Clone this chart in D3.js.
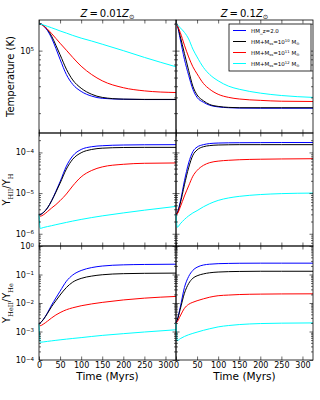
<!DOCTYPE html>
<html>
<head>
<meta charset="utf-8">
<script src="https://cdn.jsdelivr.net/npm/d3@7"></script>
<style>
  body { margin: 0; background: #fff; }
  text { font-family: "DejaVu Sans", sans-serif; }
</style>
</head>
<body>
<div class="chart"></div>
<script>
// time grid (Myrs)
const times = [0, 3, 10, 20, 30, 40, 50, 65, 80, 100, 125, 150, 200, 250, 325];
const xTicks = [0, 50, 100, 150, 200, 250, 300];

const seriesColors = ["#0000ff", "#000000", "#ff0000", "#00ffff"];

// temperature (K), Z = 0.01 Zsun : HM, 1e10, 1e11, 1e12
const tempLowZ = [
  [2.0e5, 2.0e5, 1.9e5, 1.68e5, 1.38e5, 1.06e5, 8.0e4, 5.4e4, 4.2e4, 3.5e4, 3.1e4, 2.93e4, 2.86e4, 2.84e4, 2.84e4],
  [2.0e5, 2.0e5, 1.92e5, 1.72e5, 1.45e5, 1.15e5, 9.0e4, 6.2e4, 4.7e4, 3.8e4, 3.25e4, 3.0e4, 2.87e4, 2.85e4, 2.85e4],
  [2.0e5, 1.98e5, 1.9e5, 1.74e5, 1.55e5, 1.37e5, 1.21e5, 1.01e5, 8.4e4, 6.7e4, 5.4e4, 4.6e4, 3.85e4, 3.55e4, 3.4e4],
  [2.0e5, 1.98e5, 1.94e5, 1.87e5, 1.8e5, 1.73e5, 1.66e5, 1.57e5, 1.48e5, 1.38e5, 1.28e5, 1.18e5, 1.0e5, 8.4e4, 6.6e4]
];
// temperature (K), Z = 0.1 Zsun
const tempHighZ = [
  [2.0e5, 1.9e5, 1.35e5, 8.0e4, 5.3e4, 3.7e4, 3.0e4, 2.65e4, 2.45e4, 2.35e4, 2.3e4, 2.28e4, 2.27e4, 2.27e4, 2.27e4],
  [2.0e5, 1.92e5, 1.45e5, 9.3e4, 6.0e4, 4.0e4, 3.2e4, 2.75e4, 2.5e4, 2.38e4, 2.32e4, 2.3e4, 2.3e4, 2.3e4, 2.3e4],
  [2.0e5, 1.9e5, 1.6e5, 1.15e5, 8.5e4, 6.6e4, 5.5e4, 4.3e4, 3.7e4, 3.25e4, 3.0e4, 2.88e4, 2.78e4, 2.72e4, 2.7e4],
  [2.0e5, 1.95e5, 1.8e5, 1.6e5, 1.35e5, 1.04e5, 8.5e4, 6.5e4, 5.4e4, 4.6e4, 4.0e4, 3.7e4, 3.35e4, 3.15e4, 3.0e4]
];
// Y_HII / Y_H, Z = 0.01 Zsun
const hiiLowZ = [
  [3.0e-6, 3.0e-6, 3.3e-6, 4.3e-6, 6.5e-6, 1.1e-5, 1.9e-5, 4.6e-5, 8.2e-5, 1.18e-4, 1.38e-4, 1.46e-4, 1.52e-4, 1.54e-4, 1.55e-4],
  [3.0e-6, 3.0e-6, 3.3e-6, 4.3e-6, 6.5e-6, 1.05e-5, 1.75e-5, 3.9e-5, 6.8e-5, 9.8e-5, 1.18e-4, 1.27e-4, 1.32e-4, 1.33e-4, 1.33e-4],
  [3.0e-6, 2.7e-6, 2.9e-6, 3.5e-6, 4.3e-6, 5.2e-6, 6.5e-6, 9.5e-6, 1.5e-5, 2.5e-5, 3.6e-5, 4.4e-5, 5.1e-5, 5.4e-5, 5.5e-5],
  [3.0e-6, 1.35e-6, 1.42e-6, 1.5e-6, 1.58e-6, 1.67e-6, 1.76e-6, 1.9e-6, 2.05e-6, 2.25e-6, 2.5e-6, 2.75e-6, 3.25e-6, 3.8e-6, 4.7e-6]
];
// Y_HII / Y_H, Z = 0.1 Zsun
const hiiHighZ = [
  [3.0e-6, 3.3e-6, 6.0e-6, 2.0e-5, 5.5e-5, 1.05e-4, 1.35e-4, 1.55e-4, 1.65e-4, 1.7e-4, 1.72e-4, 1.73e-4, 1.74e-4, 1.75e-4, 1.75e-4],
  [3.0e-6, 3.2e-6, 5.5e-6, 1.6e-5, 4.2e-5, 8.5e-5, 1.15e-4, 1.38e-4, 1.47e-4, 1.52e-4, 1.54e-4, 1.55e-4, 1.55e-4, 1.55e-4, 1.55e-4],
  [3.0e-6, 3.1e-6, 4.5e-6, 8.5e-6, 1.5e-5, 2.6e-5, 3.6e-5, 4.8e-5, 5.6e-5, 6.1e-5, 6.4e-5, 6.6e-5, 6.8e-5, 6.9e-5, 7.0e-5],
  [3.0e-6, 1.45e-6, 1.75e-6, 2.25e-6, 2.75e-6, 3.25e-6, 3.7e-6, 4.6e-6, 5.5e-6, 6.6e-6, 7.6e-6, 8.3e-6, 9.2e-6, 9.7e-6, 1.0e-5]
];
// Y_HeII / Y_He, Z = 0.01 Zsun
const heiiLowZ = [
  [1.9e-3, 2.0e-3, 2.6e-3, 4.5e-3, 8.5e-3, 1.5e-2, 2.6e-2, 5.8e-2, 9.6e-2, 1.38e-1, 1.75e-1, 1.98e-1, 2.18e-1, 2.25e-1, 2.3e-1],
  [1.9e-3, 2.0e-3, 2.6e-3, 4.3e-3, 7.5e-3, 1.2e-2, 1.9e-2, 3.5e-2, 5.4e-2, 7.3e-2, 8.8e-2, 9.8e-2, 1.07e-1, 1.1e-1, 1.12e-1],
  [1.9e-3, 1.6e-3, 1.8e-3, 2.3e-3, 3.0e-3, 3.8e-3, 4.6e-3, 5.8e-3, 6.8e-3, 8.0e-3, 9.3e-3, 1.05e-2, 1.28e-2, 1.48e-2, 1.7e-2],
  [1.9e-3, 4.2e-4, 4.3e-4, 4.5e-4, 4.7e-4, 4.9e-4, 5.1e-4, 5.4e-4, 5.7e-4, 6.1e-4, 6.7e-4, 7.3e-4, 8.4e-4, 9.6e-4, 1.15e-3]
];
// Y_HeII / Y_He, Z = 0.1 Zsun
const heiiHighZ = [
  [2.0e-3, 2.6e-3, 7.0e-3, 3.5e-2, 8.5e-2, 1.4e-1, 1.8e-1, 2.15e-1, 2.3e-1, 2.4e-1, 2.45e-1, 2.48e-1, 2.5e-1, 2.5e-1, 2.5e-1],
  [2.0e-3, 2.5e-3, 6.0e-3, 2.2e-2, 4.8e-2, 7.4e-2, 9.0e-2, 1.05e-1, 1.15e-1, 1.22e-1, 1.26e-1, 1.28e-1, 1.3e-1, 1.3e-1, 1.3e-1],
  [2.0e-3, 2.2e-3, 3.5e-3, 6.5e-3, 9.0e-3, 1.06e-2, 1.2e-2, 1.4e-2, 1.6e-2, 1.8e-2, 1.9e-2, 1.98e-2, 2.05e-2, 2.08e-2, 2.1e-2],
  [2.0e-3, 4.8e-4, 5.6e-4, 6.7e-4, 7.7e-4, 8.6e-4, 9.5e-4, 1.1e-3, 1.25e-3, 1.45e-3, 1.62e-3, 1.75e-3, 1.9e-3, 1.96e-3, 2.0e-3]
];

const tempDomain = [1.2e4, 2.2e5], tempMajors = [1e5];
const hiiDomain = [5e-7, 3e-4], hiiMajors = [1e-6, 1e-5, 1e-4];
const heiiDomain = [1e-4, 1], heiiMajors = [1e-4, 1e-3, 1e-2, 1e-1, 1];

const cols = [[39, 176], [176, 313]];
const rows = [[20, 133], [133, 246], [246, 360]];

const svg = d3.select(".chart").append("svg")
    .attr("width", 320)
    .attr("height", 400);

function minorTicks(domain) {
  let out = [];
  for (let e = Math.floor(Math.log10(domain[0])); e <= Math.ceil(Math.log10(domain[1])); e++) {
    for (let k = 2; k < 10; k++) {
      let v = k * Math.pow(10, e);
      if (v > domain[0] * 1.0001 && v < domain[1] * 0.9999) out.push(v);
    }
  }
  return out;
}

function expLabel(sel) {
  sel.each(function(d) {
    const t = d3.select(this);
    const e = Math.round(Math.log10(d));
    t.text("");
    t.append("tspan").text("10");
    t.append("tspan").attr("dy", "-0.45em").attr("font-size", 5.5)
      .text(e < 0 ? "\u2212" + (-e) : e);
  });
}

function panel(col, row, domain, majors, data, showX, showY) {
  const [x0, x1] = cols[col], [y0, y1] = rows[row];
  const x = d3.scaleLinear().domain([0, 325]).range([x0, x1]);
  const y = d3.scaleLog().domain(domain).range([y1, y0]);
  const minors = minorTicks(domain);

  const line = d3.line()
    .x((d, i) => x(times[i]))
    .y(d => y(d))
    .curve(d3.curveMonotoneX);

  const g = svg.append("g");
  data.forEach((s, i) => {
    g.append("path")
      .attr("d", line(s))
      .attr("fill", "none")
      .attr("stroke", seriesColors[i])
      .attr("stroke-width", 1);
  });

  g.append("g").attr("class", "axis")
    .attr("transform", `translate(0,${y1})`)
    .call(d3.axisBottom(x).tickValues(xTicks).tickSize(-3.5).tickPadding(2)
      .tickFormat(showX ? d3.format("d") : ""));
  g.append("g").attr("class", "axis")
    .attr("transform", `translate(0,${y0})`)
    .call(d3.axisTop(x).tickValues(xTicks).tickSize(-3.5).tickFormat(""));

  const ly = g.append("g").attr("class", "axis")
    .attr("transform", `translate(${x0},0)`)
    .call(d3.axisLeft(y).tickValues(majors).tickSize(-3.5).tickPadding(5));
  if (showY) ly.selectAll(".tick text").call(expLabel);
  else ly.selectAll(".tick text").remove();
  g.append("g").attr("class", "axis")
    .attr("transform", `translate(${x0},0)`)
    .call(d3.axisLeft(y).tickValues(minors).tickSize(-2).tickFormat(""));
  g.append("g").attr("class", "axis")
    .attr("transform", `translate(${x1},0)`)
    .call(d3.axisRight(y).tickValues(majors).tickSize(-3.5).tickFormat(""));
  g.append("g").attr("class", "axis")
    .attr("transform", `translate(${x1},0)`)
    .call(d3.axisRight(y).tickValues(minors).tickSize(-2).tickFormat(""));

  g.selectAll(".axis .domain").remove();
  g.selectAll(".axis line").attr("stroke", "#000").attr("stroke-width", 0.6);
  g.selectAll(".axis text").attr("font-size", 8).attr("fill", "#000")
    .attr("font-family", "DejaVu Sans, sans-serif");

  g.append("rect")
    .attr("x", x0).attr("y", y0)
    .attr("width", x1 - x0).attr("height", y1 - y0)
    .attr("fill", "none").attr("stroke", "#000").attr("stroke-width", 0.8);
}

panel(0, 0, tempDomain, tempMajors, tempLowZ, false, true);
panel(1, 0, tempDomain, tempMajors, tempHighZ, false, false);
panel(0, 1, hiiDomain, hiiMajors, hiiLowZ, false, true);
panel(1, 1, hiiDomain, hiiMajors, hiiHighZ, false, false);
panel(0, 2, heiiDomain, heiiMajors, heiiLowZ, true, true);
panel(1, 2, heiiDomain, heiiMajors, heiiHighZ, true, false);

// titles
function title(cx, z) {
  const t = svg.append("text")
    .attr("x", cx).attr("y", 17)
    .attr("text-anchor", "middle")
    .attr("font-family", "DejaVu Serif, serif")
    .attr("font-size", 10);
  t.append("tspan").attr("font-style", "italic").text("Z");
  t.append("tspan").text("\u2009=\u2009" + z);
  t.append("tspan").attr("font-style", "italic").text("Z");
  t.append("tspan").attr("font-size", 6.5).attr("dy", 2).text("\u2299");
}
title(107.5, "0.01");
title(244.5, "0.1");

// x labels
[107.5, 244.5].forEach(cx => {
  svg.append("text")
    .attr("x", cx).attr("y", 380)
    .attr("text-anchor", "middle")
    .attr("font-size", 10.5)
    .text("Time (Myrs)");
});

// y labels
svg.append("text")
  .attr("transform", "translate(14,76.5) rotate(-90)")
  .attr("text-anchor", "middle")
  .attr("font-size", 10)
  .text("Temperature (K)");

function ratioLabel(cy, a, b) {
  const t = svg.append("text")
    .attr("transform", `translate(10,${cy}) rotate(-90)`)
    .attr("text-anchor", "middle")
    .attr("font-size", 10);
  t.append("tspan").text("Y");
  t.append("tspan").attr("dy", 2.5).attr("font-size", 6.5)
    .attr("font-family", "DejaVu Serif, serif").text(a);
  t.append("tspan").attr("dy", -2.5).text("/Y");
  t.append("tspan").attr("dy", 2.5).attr("font-size", 6.5)
    .attr("font-family", "DejaVu Serif, serif").text(b);
}
ratioLabel(189.5, "HII", "H");
ratioLabel(303, "HeII", "He");

// legend
const legendLabels = [
  ["HM_z=2.0"],
  ["HM+M", "ss", "=10", "10", " M", "\u2299"],
  ["HM+M", "ss", "=10", "11", " M", "\u2299"],
  ["HM+M", "ss", "=10", "12", " M", "\u2299"]
];
const legend = svg.append("g");
legend.append("rect")
  .attr("x", 229).attr("y", 24).attr("width", 82).attr("height", 47)
  .attr("fill", "#fff").attr("stroke", "#000").attr("stroke-width", 0.8);
const ly = d3.scaleBand().domain(d3.range(4)).range([25, 69]);
legendLabels.forEach((parts, i) => {
  const yy = ly(i) + ly.bandwidth() / 2;
  legend.append("line")
    .attr("x1", 233).attr("x2", 246).attr("y1", yy).attr("y2", yy)
    .attr("stroke", seriesColors[i]).attr("stroke-width", 1);
  const t = legend.append("text")
    .attr("x", 251).attr("y", yy + 2)
    .attr("font-size", 5.5);
  if (parts.length === 1) { t.text(parts[0]); return; }
  t.append("tspan").text(parts[0]);
  t.append("tspan").attr("dy", 1.2).attr("font-size", 3.8).text(parts[1]);
  t.append("tspan").attr("dy", -1.2).text(parts[2]);
  t.append("tspan").attr("dy", -2).attr("font-size", 3.8).text(parts[3]);
  t.append("tspan").attr("dy", 2).text(parts[4]);
  t.append("tspan").attr("dy", 1.2).attr("font-size", 3.8).text(parts[5]);
});
</script>
</body>
</html>
